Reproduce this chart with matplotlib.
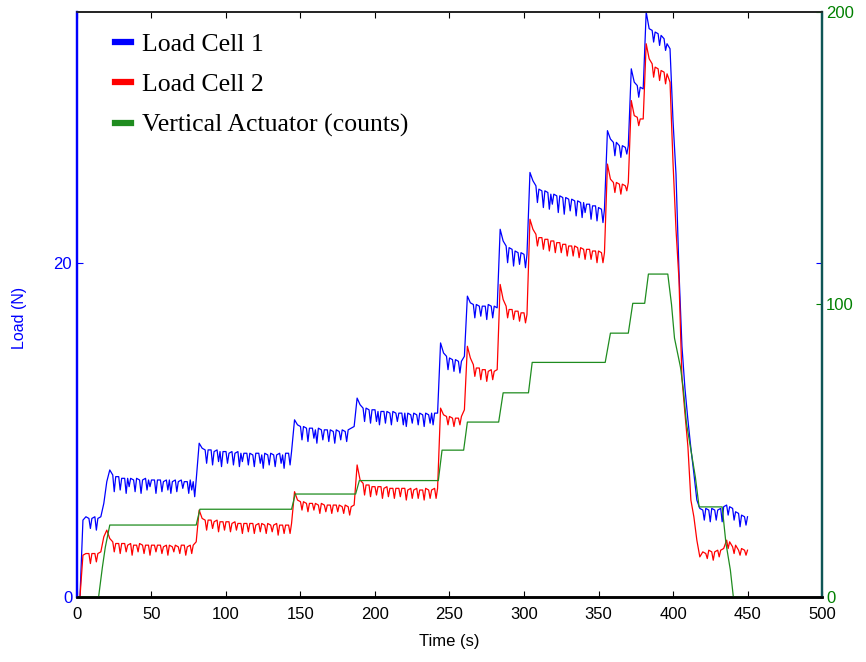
import numpy as np
import matplotlib
matplotlib.use("Agg")
import matplotlib.pyplot as plt
from matplotlib.lines import Line2D

plt.rcParams['font.family'] = ['Liberation Sans', 'DejaVu Sans']

dt = 2.0
cell1_level = [
    0, 0,
    4.6, 4.8, 4.7, 4.7, 4.8, 4.7, 4.8,
    5.6, 6.9, 7.6,
    7.3, 7.2, 7.2, 7.1, 7.1, 7.1, 7.1, 7.0, 7.1, 7.0, 7.0, 7.1, 7.0, 7.0, 7.0,
    7.0, 7.0, 6.9, 7.0, 7.0, 6.9, 7.0, 6.9, 7.0, 6.9, 6.9, 7.0, 6.9, 7.0,
    9.2,
    8.9, 8.8, 8.8, 8.8, 8.7, 8.8, 8.7, 8.7, 8.7, 8.6, 8.7, 8.6, 8.7, 8.6, 8.6, 8.6,
    8.6, 8.5, 8.6, 8.6, 8.5, 8.6, 8.5, 8.6, 8.5, 8.5, 8.6, 8.5, 8.6, 8.6, 8.7,
    10.6,
    10.3, 10.2, 10.2, 10.1, 10.1, 10.1, 10.0, 10.1, 10.0, 10.0,
    10.0, 10.0, 9.9, 10.0, 9.9, 10.0, 9.9, 10.0, 10.1, 10.2,
    11.9,
    11.5, 11.3, 11.3, 11.2, 11.2, 11.2, 11.1, 11.1, 11.1, 11.1, 11.0, 11.1, 11.0, 11.0,
    11.0, 11.0, 11.0, 10.9, 11.0, 10.9, 11.0, 10.9, 11.0, 10.9, 11.0, 11.0, 11.0,
    15.2, 14.6, 14.4, 14.3, 14.2, 14.2, 14.1, 14.1, 14.4,
    18.0, 17.6, 17.5, 17.5, 17.4, 17.4, 17.4, 17.5, 17.4, 17.4, 17.3,
    22.0, 21.3, 21.0, 20.9, 20.8, 20.7, 20.6, 20.6, 20.5, 20.5,
    25.4,
    24.9, 24.6, 24.4, 24.3, 24.3, 24.2, 24.1, 24.1, 24.0, 24.0, 23.9, 23.9, 23.8,
    23.8, 23.7, 23.7, 23.6, 23.6, 23.5, 23.5, 23.4, 23.4, 23.3, 23.2, 23.2,
    27.9, 27.4, 27.2, 27.2, 27.0, 27.0, 26.9, 27.0,
    31.6, 30.8, 30.6, 30.5, 30.4,
    35.0, 34.0, 33.9, 33.8, 33.7, 33.6, 33.4, 33.1, 32.8,
    28.5, 25.3, 19.5, 15.0, 12.5, 10.6, 8.9, 7.4, 5.8,
    5.3, 5.2, 5.3, 5.2, 5.3, 5.2, 5.2, 5.3, 5.4, 5.5, 5.4, 5.3, 5.1, 5.0, 4.9, 4.8, 4.8,
]
cell2_level = [
    0, 0,
    2.5, 2.6, 2.6, 2.6, 2.6, 2.6, 2.7,
    3.6, 4.0, 3.5,
    3.3, 3.2, 3.2, 3.2, 3.2, 3.1, 3.2, 3.1, 3.1, 3.2, 3.1, 3.1, 3.1, 3.1, 3.1,
    3.1, 3.1, 3.0, 3.1, 3.1, 3.0, 3.1, 3.0, 3.1, 3.1, 3.0, 3.1, 3.1, 3.3,
    5.2,
    4.7, 4.6, 4.6, 4.6, 4.5, 4.6, 4.5, 4.5, 4.5, 4.5, 4.4, 4.5, 4.4, 4.4, 4.4, 4.4,
    4.4, 4.4, 4.3, 4.4, 4.4, 4.3, 4.4, 4.3, 4.3, 4.4, 4.3, 4.3, 4.3, 4.3, 4.4,
    6.3,
    5.8, 5.7, 5.7, 5.6, 5.6, 5.6, 5.6, 5.5, 5.6, 5.5,
    5.5, 5.5, 5.5, 5.5, 5.5, 5.4, 5.5, 5.4, 5.4, 5.5,
    7.9,
    7.0, 6.8, 6.7, 6.7, 6.6, 6.6, 6.6, 6.6, 6.5, 6.6, 6.5, 6.5, 6.5, 6.5,
    6.5, 6.5, 6.4, 6.5, 6.4, 6.5, 6.4, 6.4, 6.5, 6.4, 6.4, 6.5, 6.5,
    11.3, 10.9, 10.8, 10.8, 10.7, 10.7, 10.7, 10.8, 11.2,
    15.0, 14.3, 13.9, 13.7, 13.7, 13.6, 13.6, 13.5, 13.6, 13.5, 13.6,
    18.7, 17.8, 17.4, 17.2, 17.2, 17.1, 17.1, 17.0, 17.0, 16.9,
    22.6,
    22.0, 21.7, 21.5, 21.5, 21.4, 21.4, 21.3, 21.3, 21.2, 21.2, 21.1, 21.1, 21.0,
    21.0, 21.0, 20.9, 20.9, 20.8, 20.8, 20.8, 20.7, 20.7, 20.7, 20.6, 20.6,
    25.9, 25.0, 24.8, 24.8, 24.7, 24.7, 24.6, 24.8,
    29.7, 28.8, 28.7, 28.6, 28.6,
    33.1, 32.2, 31.9, 31.7, 31.6, 31.5, 31.4, 31.3, 30.8,
    26.0, 22.0, 19.0, 13.1, 11.0, 9.0, 5.8, 4.8, 3.4,
    2.4, 2.7, 2.6, 2.8, 2.7, 2.7, 2.8, 2.8, 2.9, 3.4, 3.3, 3.0, 3.1, 2.8, 2.9, 2.8, 2.8,
]

# short downward spikes (time s, load N)
cell1_dip_t = [9, 13, 25, 29, 33, 35, 39, 43, 47, 49, 53, 57, 61, 63, 67, 71, 75, 77, 79,
               87, 91, 95, 97, 101, 105, 109, 111, 115, 119, 123, 125, 129, 133, 137, 139, 143,
               151, 155, 159, 161, 165, 169, 173, 177, 181,
               193, 197, 201, 203, 207, 211, 215, 219, 221, 225, 229, 233, 237, 239,
               249, 253, 257, 267, 271, 275, 279, 289, 293, 297, 301,
               309, 313, 317, 319, 323, 327, 331, 335, 339, 341, 345, 349, 353,
               361, 365, 369, 377, 387, 391, 395,
               421, 425, 429, 433, 437, 441, 445, 449]
cell1_dip = [4.1, 4.0, 6.3, 6.4, 6.2, 6.6, 6.3, 6.2, 6.4, 6.6, 6.2, 6.3, 6.4, 6.2, 6.3, 6.5, 6.2, 6.4, 6.0,
             8.0, 7.9, 8.1, 7.8, 8.0, 7.9, 7.8, 8.1, 7.9, 7.8, 8.0, 7.7, 7.9, 7.8, 8.0, 7.7, 7.9,
             9.4, 9.3, 9.5, 9.2, 9.4, 9.3, 9.2, 9.4, 9.3,
             10.5, 10.4, 10.5, 10.3, 10.4, 10.3, 10.5, 10.3, 10.2, 10.4, 10.3, 10.2, 10.4, 10.3,
             13.6, 13.5, 13.4, 16.7, 16.8, 16.6, 16.7, 20.0, 19.8, 19.9, 19.7,
             23.6, 23.3, 23.2, 23.5, 23.0, 22.9, 23.1, 22.8, 22.7, 23.0, 22.6, 22.5, 22.4,
             26.4, 26.3, 26.5, 29.9, 33.2, 33.0, 32.7,
             4.6, 4.5, 4.6, 4.5, 4.9, 4.6, 4.2, 4.3]
cell2_dip_t = [9, 13, 25, 29, 33, 37, 41, 45, 49, 53, 57, 61, 65, 69, 73, 77,
               87, 91, 95, 99, 103, 107, 111, 115, 119, 123, 127, 131, 135, 139, 143,
               151, 155, 159, 163, 167, 171, 175, 179, 183,
               193, 197, 201, 205, 209, 213, 217, 221, 225, 229, 233, 237, 241,
               249, 253, 257, 267, 271, 275, 279, 289, 293, 297, 301,
               309, 313, 317, 321, 325, 329, 333, 337, 341, 345, 349, 353,
               361, 365, 369, 377, 387, 391, 395,
               423, 427, 431, 437, 441, 445, 449]
cell2_dip = [2.0, 2.1, 2.7, 2.6, 2.7, 2.5, 2.7, 2.6, 2.5, 2.7, 2.6, 2.5, 2.7, 2.6, 2.5, 2.6,
             4.0, 4.1, 3.9, 4.0, 3.9, 4.0, 3.8, 3.9, 3.8, 3.9, 3.8, 3.9, 3.7, 3.8, 3.8,
             5.2, 5.1, 5.2, 5.0, 5.1, 5.0, 5.1, 5.0, 4.9,
             6.1, 6.0, 6.1, 5.9, 6.0, 5.9, 6.0, 5.8, 5.9, 5.9, 5.8, 5.9, 5.9,
             10.3, 10.2, 10.3, 13.2, 13.0, 12.9, 13.0, 16.7, 16.6, 16.5, 16.4,
             21.0, 20.8, 20.7, 20.6, 20.6, 20.4, 20.4, 20.3, 20.2, 20.2, 20.0, 20.0,
             24.2, 24.1, 24.3, 28.2, 31.1, 30.9, 30.7,
             2.3, 2.2, 2.4, 2.9, 2.6, 2.5, 2.5]

actuator_t = [0, 14.5, 17, 19, 22, 80, 82.5, 144, 146.5, 187, 189.5, 242.5, 245,
              259.5, 262, 283, 286, 303, 305.5, 354.5, 358, 370, 373, 381, 383.5,
              396.5, 399, 401, 405, 407, 409, 412, 415, 417.5, 433, 435.5, 438.5,
              440.5, 448]
actuator_counts = [0, 0, 10, 17, 24.6, 24.6, 30, 30, 35.2, 35.2, 39.8, 39.8, 50.2,
                   50.2, 59.8, 59.8, 69.8, 69.8, 80.2, 80.2, 90.2, 90.2, 100.4, 100.4,
                   110.4, 110.4, 100, 88.5, 78.6, 70.8, 59.5, 50.3, 41, 30.8, 30.8,
                   18.5, 9.2, 0, 0]


def merge(level, dip_t, dip):
    t = np.concatenate([dt * np.arange(len(level)), dip_t])
    y = np.concatenate([level, dip])
    order = np.argsort(t, kind='stable')
    return t[order], y[order]


t1, cell1 = merge(cell1_level, cell1_dip_t, cell1_dip)
t2, cell2 = merge(cell2_level, cell2_dip_t, cell2_dip)

blue = '#0000ff'
red = '#ff0000'
green = '#1f8c1f'
green_txt = '#008000'

fig = plt.figure(figsize=(8.66, 6.62), dpi=100)
ax = fig.add_axes([0.0889, 0.0982, 0.8603, 0.8837])
ax2 = ax.twinx()

ax.plot(t1, cell1, color=blue, lw=0.9)
ax.plot(t2, cell2, color=red, lw=0.9)
ax2.plot(actuator_t, actuator_counts, color=green, lw=0.9)

ax.set_xlim(0, 500)
ax.set_ylim(0, 35)
ax2.set_ylim(0, 200)
ax.set_xticks(np.arange(0, 501, 50))
ax.set_yticks([0, 20])
ax2.set_yticks([0, 100, 200])

ax.tick_params(axis='x', direction='in', top=True, length=4, labelsize=12, pad=7, colors='black')
ax.tick_params(axis='y', direction='in', right=True, length=4, labelsize=12, colors=blue)
ax2.tick_params(axis='y', direction='in', length=4, labelsize=12, colors=green_txt, pad=3)

for a in (ax, ax2):
    a.spines['bottom'].set_color('black')
    a.spines['bottom'].set_linewidth(1.8)
    a.spines['top'].set_color('#222222')
    a.spines['top'].set_linewidth(1.2)
    a.spines['left'].set_color(blue)
    a.spines['left'].set_linewidth(1.6)
    a.spines['right'].set_color('#0e5656')
    a.spines['right'].set_linewidth(1.6)

ax.set_xlabel('Time (s)', fontsize=12, labelpad=9)
ax.set_ylabel('Load (N)', fontsize=11.5, color=blue, va='center')
ax.yaxis.set_label_coords(-0.0765, 0.477)

handles = [Line2D([], [], color=blue, lw=4.5),
           Line2D([], [], color=red, lw=4.5),
           Line2D([], [], color=green, lw=4.5)]
ax2.legend(handles, ['Load Cell 1', 'Load Cell 2', 'Vertical Actuator (counts)'],
           loc='upper left', bbox_to_anchor=(0.027, 0.995), frameon=False,
           prop={'family': 'Liberation Serif', 'size': 18.5},
           handlelength=0.6, handletextpad=0.45, labelspacing=0.68, borderaxespad=0.3)

fig.savefig('out.png', dpi=100)
